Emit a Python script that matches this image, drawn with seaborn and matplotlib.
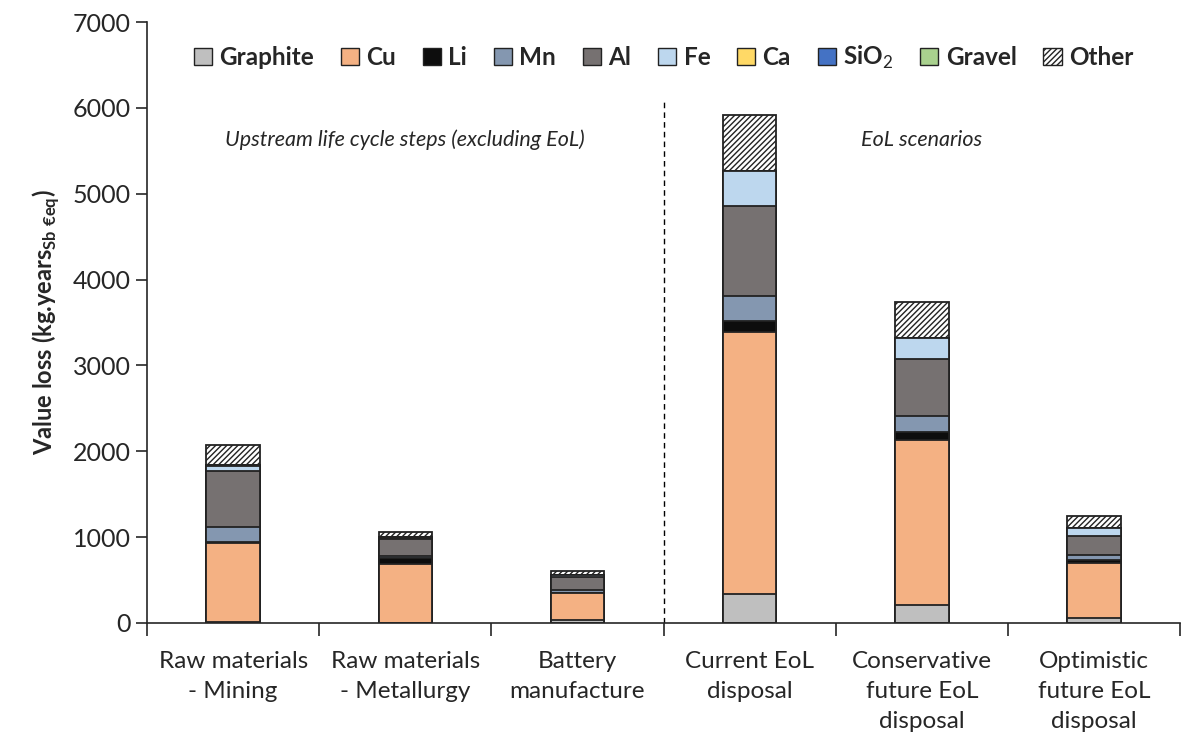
import pandas as pd
import seaborn as sns
from matplotlib import pyplot as plt
import matplotlib.patches as mpatches

# values (kg.years Sb eq)
steps = ['Raw materials\n- Mining', 'Raw materials\n- Metallurgy', 'Battery\nmanufacture',
         'Current EoL\ndisposal', 'Conservative\nfuture EoL\ndisposal', 'Optimistic\nfuture EoL\ndisposal']
materials = ['Graphite', 'Cu', 'Li', 'Mn', 'Al', 'Fe', 'Ca', 'SiO2', 'Gravel', 'Other']
graphite = [8, 5, 40, 343, 214, 62]
cu = [928, 686, 305, 3042, 1921, 641]
li = [12, 62, 10, 130, 89, 35]
mn = [176, 27, 25, 295, 183, 55]
al = [643, 195, 150, 1052, 668, 223]
fe = [63, 20, 25, 406, 249, 89]
ca = [15, 8, 5, 0, 0, 0]
sio2 = [0, 0, 0, 0, 0, 0]
gravel = [0, 0, 0, 0, 0, 0]
other = [227, 62, 40, 650, 413, 141]

colors = {'Graphite': '#BFBFBF', 'Cu': '#F4B183', 'Li': '#0D0D0D', 'Mn': '#8497B0',
          'Al': '#767171', 'Fe': '#BDD7EE', 'Ca': '#FFD966', 'SiO2': '#4472C4',
          'Gravel': '#A9D18E', 'Other': 'white'}
legend_names = {'SiO2': 'SiO$_2$'}

df = pd.DataFrame({'Step': steps, 'Graphite': graphite, 'Cu': cu, 'Li': li, 'Mn': mn,
                   'Al': al, 'Fe': fe, 'Ca': ca, 'SiO2': sio2, 'Gravel': gravel, 'Other': other})
cum = df[materials].cumsum(axis=1)
cum['Step'] = df['Step']

sns.set_style('ticks')
plt.rcParams['font.family'] = ['Lato', 'DejaVu Sans']
plt.rcParams['mathtext.fontset'] = 'custom'
plt.rcParams['mathtext.rm'] = 'Lato'
plt.rcParams['mathtext.bf'] = 'Lato:bold'
plt.rcParams['hatch.color'] = '#404040'
plt.rcParams['hatch.linewidth'] = 1.0

fig = plt.figure(figsize=(11.82, 7.47), dpi=100)
ax = fig.add_axes([0.1244, 0.166, 0.874, 0.8045])

# stacked bars: draw cumulative totals from the top layer down
for m in reversed(materials):
    sns.barplot(x='Step', y=m, data=cum, color=colors[m], width=0.31, ax=ax,
                edgecolor='#222222', linewidth=1.3, saturation=1,
                hatch='//////' if m == 'Other' else None)

ax.set_ylim(0, 7000)
ax.set_xlim(-0.5, 5.5)
ax.set_yticks(range(0, 7001, 1000))
ax.tick_params(axis='y', labelsize=18, length=8, width=1.2, direction='out')
ax.set_xticks([i - 0.5 for i in range(7)])
ax.set_xticklabels([])
ax.tick_params(axis='x', which='major', length=9, width=1.2, direction='out')
ax.set_xticks(range(6), minor=True)
ax.set_xticklabels(steps, minor=True, fontsize=17.5, linespacing=1.55)
ax.tick_params(axis='x', which='minor', length=0, pad=20)
ax.set_xlabel('')
ax.set_ylabel('Value loss (kg.years$_{\\mathbf{Sb\\ €eq}}$)', fontsize=17, fontweight='bold', labelpad=8)
for s in ['top', 'right']:
    ax.spines[s].set_visible(False)
for s in ['left', 'bottom']:
    ax.spines[s].set_linewidth(1.2)

ax.plot([2.5, 2.5], [0, 6100], ls=(0, (4, 3)), color='black', lw=1)
ax.text(1, 5630, 'Upstream life cycle steps (excluding EoL)', ha='center', va='center',
        fontsize=15.5, style='italic')
ax.text(4, 5630, 'EoL scenarios', ha='center', va='center', fontsize=15.5, style='italic')

handles = [mpatches.Patch(facecolor=colors[m], edgecolor='#222222', linewidth=1,
                          hatch='//////' if m == 'Other' else None,
                          label=legend_names.get(m, m)) for m in materials]
leg = ax.legend(handles=handles, loc='upper center', bbox_to_anchor=(0.5, 1.0), ncol=10,
                frameon=False, handlelength=0.75, handleheight=0.75, handletextpad=0.3,
                columnspacing=1.1, prop={'size': 17.5, 'weight': 'bold'})

plt.savefig('out.png', dpi=100)
